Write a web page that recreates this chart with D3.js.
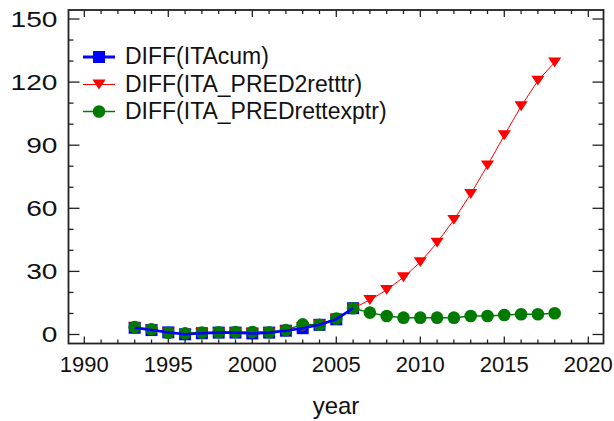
<!DOCTYPE html>
<html>
<head>
<meta charset="utf-8">
<script src="https://cdn.jsdelivr.net/npm/d3@7"></script>
<style>
  html, body { margin: 0; padding: 0; background: #fff; }
  svg { display: block; font-family: "Liberation Sans", Arial, sans-serif; }
</style>
</head>
<body>
<svg id="chart" width="614" height="421"></svg>
<script>
// Yearly differences of the observed series and the two prediction series
const yearsObs = [1993, 1994, 1995, 1996, 1997, 1998, 1999, 2000, 2001, 2002, 2003, 2004, 2005, 2006];
const diffITAcum = [3.2, 2.1, 1.0, 0.1, 0.6, 0.9, 0.9, 0.5, 0.9, 1.8, 3.0, 4.6, 7.2, 12.5];

const yearsPred = [1993, 1994, 1995, 1996, 1997, 1998, 1999, 2000, 2001, 2002, 2003, 2004, 2005,
                   2006, 2007, 2008, 2009, 2010, 2011, 2012, 2013, 2014, 2015, 2016, 2017, 2018];
const diffPred2retttr = [3.4, 2.3, 1.0, 0.3, 0.7, 1.0, 1.0, 0.6, 1.0, 1.9, 3.6, 4.8, 7.4,
                         12.5, 16.4, 21.2, 27.2, 34.4, 43.7, 54.5, 66.8, 80.4, 94.7, 108.5, 120.7, 129.4];
const diffPredRettexptr = [3.5, 2.5, 0.8, 0.6, 0.9, 1.1, 1.2, 1.2, 1.1, 2.1, 4.8, 4.6, 7.6,
                           12.5, 10.4, 8.8, 8.0, 8.0, 8.0, 8.0, 8.8, 8.8, 9.3, 9.6, 9.6, 10.1];

const seriesNames = ["DIFF(ITAcum)", "DIFF(ITA_PRED2retttr)", "DIFF(ITA_PREDrettexptr)"];
const xTickLabels = [1990, 1995, 2000, 2005, 2010, 2015, 2020];
const yTickLabels = [0, 30, 60, 90, 120, 150];

const svg = d3.select("#chart");

// frame of the plotting area
const frame = { left: 68.5, right: 603.5, top: 10, bottom: 343.5 };

const x = d3.scaleLinear().domain([1990, 2020]).range([84.3, 588.3]);
const y = d3.scaleLinear().domain([0, 150]).range([334.5, 19]);

const ink = "#222";

// minor/major ticks along all four sides, pointing inwards
const yearTicks = d3.range(1990, 2021);
const valueTicks = d3.range(0, 151, 10);

const tickG = svg.append("g").attr("stroke", ink).attr("stroke-width", 1.3);
yearTicks.forEach(t => {
  const len = t % 5 === 0 ? 7 : 4;
  tickG.append("line").attr("x1", x(t)).attr("x2", x(t))
    .attr("y1", frame.bottom).attr("y2", frame.bottom - len);
  tickG.append("line").attr("x1", x(t)).attr("x2", x(t))
    .attr("y1", frame.top).attr("y2", frame.top + len);
});
valueTicks.forEach(t => {
  const len = t % 30 === 0 ? 11 : 5;
  tickG.append("line").attr("y1", y(t)).attr("y2", y(t))
    .attr("x1", frame.left).attr("x2", frame.left + len);
  tickG.append("line").attr("y1", y(t)).attr("y2", y(t))
    .attr("x1", frame.right).attr("x2", frame.right - len);
});

svg.append("rect")
  .attr("x", frame.left).attr("y", frame.top)
  .attr("width", frame.right - frame.left).attr("height", frame.bottom - frame.top)
  .attr("fill", "none").attr("stroke", ink).attr("stroke-width", 1.8);

// tick labels
svg.append("g").selectAll("text").data(xTickLabels).join("text")
  .attr("x", d => x(d)).attr("y", 372.3)
  .attr("text-anchor", "middle").attr("font-size", 22).attr("fill", "#111")
  .text(d => d);

svg.append("g").selectAll("text").data(yTickLabels).join("text")
  .attr("transform", d => `translate(57.5,${y(d)}) scale(1.28,1)`)
  .attr("dy", "0.36em")
  .attr("text-anchor", "end").attr("font-size", 22).attr("fill", "#111")
  .text(d => d);

svg.append("text")
  .attr("x", (frame.left + frame.right) / 2).attr("y", 414)
  .attr("text-anchor", "middle").attr("font-size", 24).attr("fill", "#111")
  .text("year");

// series
const blue = "#0000ff", red = "#ff0000", green = "#007a00";
const obs = yearsObs.map((yr, i) => [yr, diffITAcum[i]]);
const pred2 = yearsPred.map((yr, i) => [yr, diffPred2retttr[i]]);
const predExp = yearsPred.map((yr, i) => [yr, diffPredRettexptr[i]]);

const line = d3.line().x(d => x(d[0])).y(d => y(d[1]));
const tri = s => `M${-s},${-s * 0.75}L${s},${-s * 0.75}L0,${s * 0.75}Z`;

const plot = svg.append("g");

plot.append("path").datum(predExp).attr("d", line)
  .attr("fill", "none").attr("stroke", green).attr("stroke-width", 1.5);
plot.append("path").datum(pred2).attr("d", line)
  .attr("fill", "none").attr("stroke", red).attr("stroke-width", 1);

plot.append("g").selectAll("rect").data(obs).join("rect")
  .attr("x", d => x(d[0]) - 6).attr("y", d => y(d[1]) - 6)
  .attr("width", 12).attr("height", 12).attr("fill", blue);

plot.append("g").selectAll("path").data(pred2).join("path")
  .attr("transform", d => `translate(${x(d[0])},${y(d[1])})`)
  .attr("d", tri(6.6)).attr("fill", red);

plot.append("g").selectAll("circle").data(predExp).join("circle")
  .attr("cx", d => x(d[0])).attr("cy", d => y(d[1])).attr("r", 6.3)
  .attr("fill", green);

plot.append("path").datum(obs).attr("d", line)
  .attr("fill", "none").attr("stroke", blue).attr("stroke-width", 2.6);

// legend
const legendRows = [
  { name: seriesNames[0], color: blue, width: 3, cy: 57, mark: "square" },
  { name: seriesNames[1], color: red, width: 1, cy: 84.5, mark: "triangle" },
  { name: seriesNames[2], color: green, width: 1.5, cy: 111.5, mark: "circle" }
];
const legend = svg.append("g");
legendRows.forEach(r => {
  legend.append("line").attr("x1", 83).attr("x2", 115).attr("y1", r.cy).attr("y2", r.cy)
    .attr("stroke", r.color).attr("stroke-width", r.width);
  if (r.mark === "square") {
    legend.append("rect").attr("x", 93).attr("y", r.cy - 6).attr("width", 12).attr("height", 12)
      .attr("fill", r.color);
  } else if (r.mark === "triangle") {
    legend.append("path").attr("transform", `translate(99,${r.cy})`).attr("d", tri(6.6))
      .attr("fill", r.color);
  } else {
    legend.append("circle").attr("cx", 99).attr("cy", r.cy).attr("r", 6.3).attr("fill", r.color);
  }
  legend.append("text").attr("x", 125).attr("y", r.cy + 7)
    .attr("font-size", 23).attr("fill", "#111").text(r.name);
});
</script>
</body>
</html>
